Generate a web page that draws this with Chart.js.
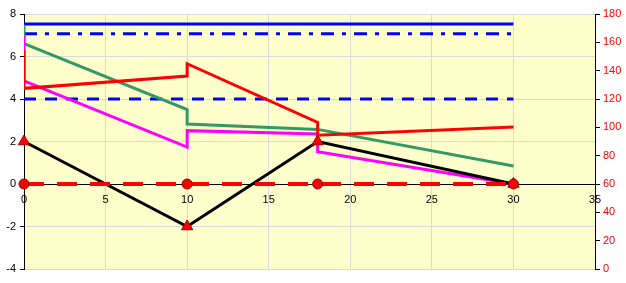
<!DOCTYPE html>
<html>
<head>
<meta charset="utf-8">
<script src="https://cdn.jsdelivr.net/npm/chart.js@4/dist/chart.umd.min.js"></script>
<style>
  body { margin: 0; background: #ffffff; }
  #box { width: 626px; height: 283px; }
</style>
</head>
<body>
<div id="box"><canvas id="grafico" width="626" height="283"></canvas></div>
<script>
/* datos */
var xTicks = [0, 5, 10, 15, 20, 25, 30, 35];
var yTicks = [-4, -2, 0, 2, 4, 6, 8];
var y2Ticks = [0, 20, 40, 60, 80, 100, 120, 140, 160, 180];

var nodesX = [0, 10, 18, 30];
var blackY = [2, -2, 2, 0];
var redDashY = [0, 0, 0, 0];

var blueX = [0, 30];
var blueSolidY = [7.53, 7.53];
var blueDashDotY = [7.07, 7.07];
var blueDashY = [4, 4];

var greenX = [0, 0, 10, 10, 18, 30];
var greenY = [7.5, 6.6, 3.5, 2.82, 2.57, 0.85];

var redX = [0, 0, 10, 10, 18, 18, 30];
var redY = [6.3, 4.5, 5.08, 5.66, 2.9, 2.3, 2.68];

var magentaX = [0, 0, 10, 10, 18, 18, 30];
var magentaY = [7.0, 4.85, 1.74, 2.51, 2.35, 1.52, 0];

function puntos(xs, ys) {
    return xs.map(function (x, i) { return {x: x, y: ys[i]}; });
}

function serie(xs, ys, color, extra) {
    var d = {
        data: puntos(xs, ys),
        showLine: true,
        borderColor: color,
        backgroundColor: color,
        borderWidth: 3,
        pointRadius: 0,
        tension: 0,
        yAxisID: "y"
    };
    for (var k in extra) d[k] = extra[k];
    return d;
}

function fijarTicks(valores) {
    return function (scale) {
        scale.ticks = valores.map(function (v) { return {value: v}; });
    };
}

var fondo = {
    id: "fondo",
    beforeDraw: function (chart) {
        var a = chart.chartArea;
        var ctx = chart.ctx;
        ctx.save();
        ctx.fillStyle = "#ffffcc";
        ctx.fillRect(a.left, a.top, a.right - a.left, a.bottom - a.top);
        ctx.restore();
    }
};

Chart.defaults.font.family = "Liberation Sans";
Chart.defaults.font.size = 11;
Chart.defaults.color = "#000000";

var datos = {
    datasets: [
        serie(nodesX, redDashY, "#ff0000", {
            borderWidth: 4, borderDash: [20, 13],
            pointRadius: 5, pointStyle: "circle",
            pointBorderColor: "#990000", pointBorderWidth: 1,
            clip: false
        }),
        serie(nodesX, blackY, "#000000", {
            pointRadius: 6.5, pointStyle: "triangle",
            pointBackgroundColor: "#ff0000",
            pointBorderColor: "#990000", pointBorderWidth: 1,
            clip: false
        }),
        serie(redX, redY, "#ff0000"),
        serie(magentaX, magentaY, "#ff00ff"),
        serie(greenX, greenY, "#339966"),
        serie(blueX, blueDashY, "#0000ff", {borderDash: [12, 9]}),
        serie(blueX, blueDashDotY, "#0000ff", {borderDash: [13, 8, 4, 8]}),
        serie(blueX, blueSolidY, "#0000ff")
    ]
};

var config = {
    type: "scatter",
    data: datos,
    plugins: [fondo],
    options: {
        responsive: false,
        animation: false,
        layout: { padding: { top: 14, bottom: 14, left: 0, right: 0 } },
        plugins: {
            legend: { display: false },
            tooltip: { enabled: false }
        },
        scales: {
            x: {
                type: "linear",
                position: { y: 0 },
                min: xTicks[0],
                max: xTicks[xTicks.length - 1],
                afterBuildTicks: fijarTicks(xTicks),
                border: { color: "#000000", width: 1 },
                grid: { color: "#dadada", drawTicks: false },
                ticks: { padding: 9, maxRotation: 0 }
            },
            y: {
                position: "left",
                min: yTicks[0],
                max: yTicks[yTicks.length - 1],
                afterBuildTicks: fijarTicks(yTicks),
                afterFit: function (scale) { scale.width = 24; },
                border: { color: "#000000", width: 1 },
                grid: { color: "#dadada", tickColor: "#000000", tickLength: 4 },
                ticks: { padding: 4 }
            },
            y2: {
                position: "right",
                min: y2Ticks[0],
                max: y2Ticks[y2Ticks.length - 1],
                afterBuildTicks: fijarTicks(y2Ticks),
                afterFit: function (scale) { scale.width = 31; },
                border: { color: "#000000", width: 1 },
                grid: { drawOnChartArea: false, tickColor: "#000000", tickLength: 5 },
                ticks: { color: "#ff0000", padding: 3 }
            }
        }
    }
};

new Chart(document.getElementById("grafico").getContext("2d"), config);
</script>
</body>
</html>
